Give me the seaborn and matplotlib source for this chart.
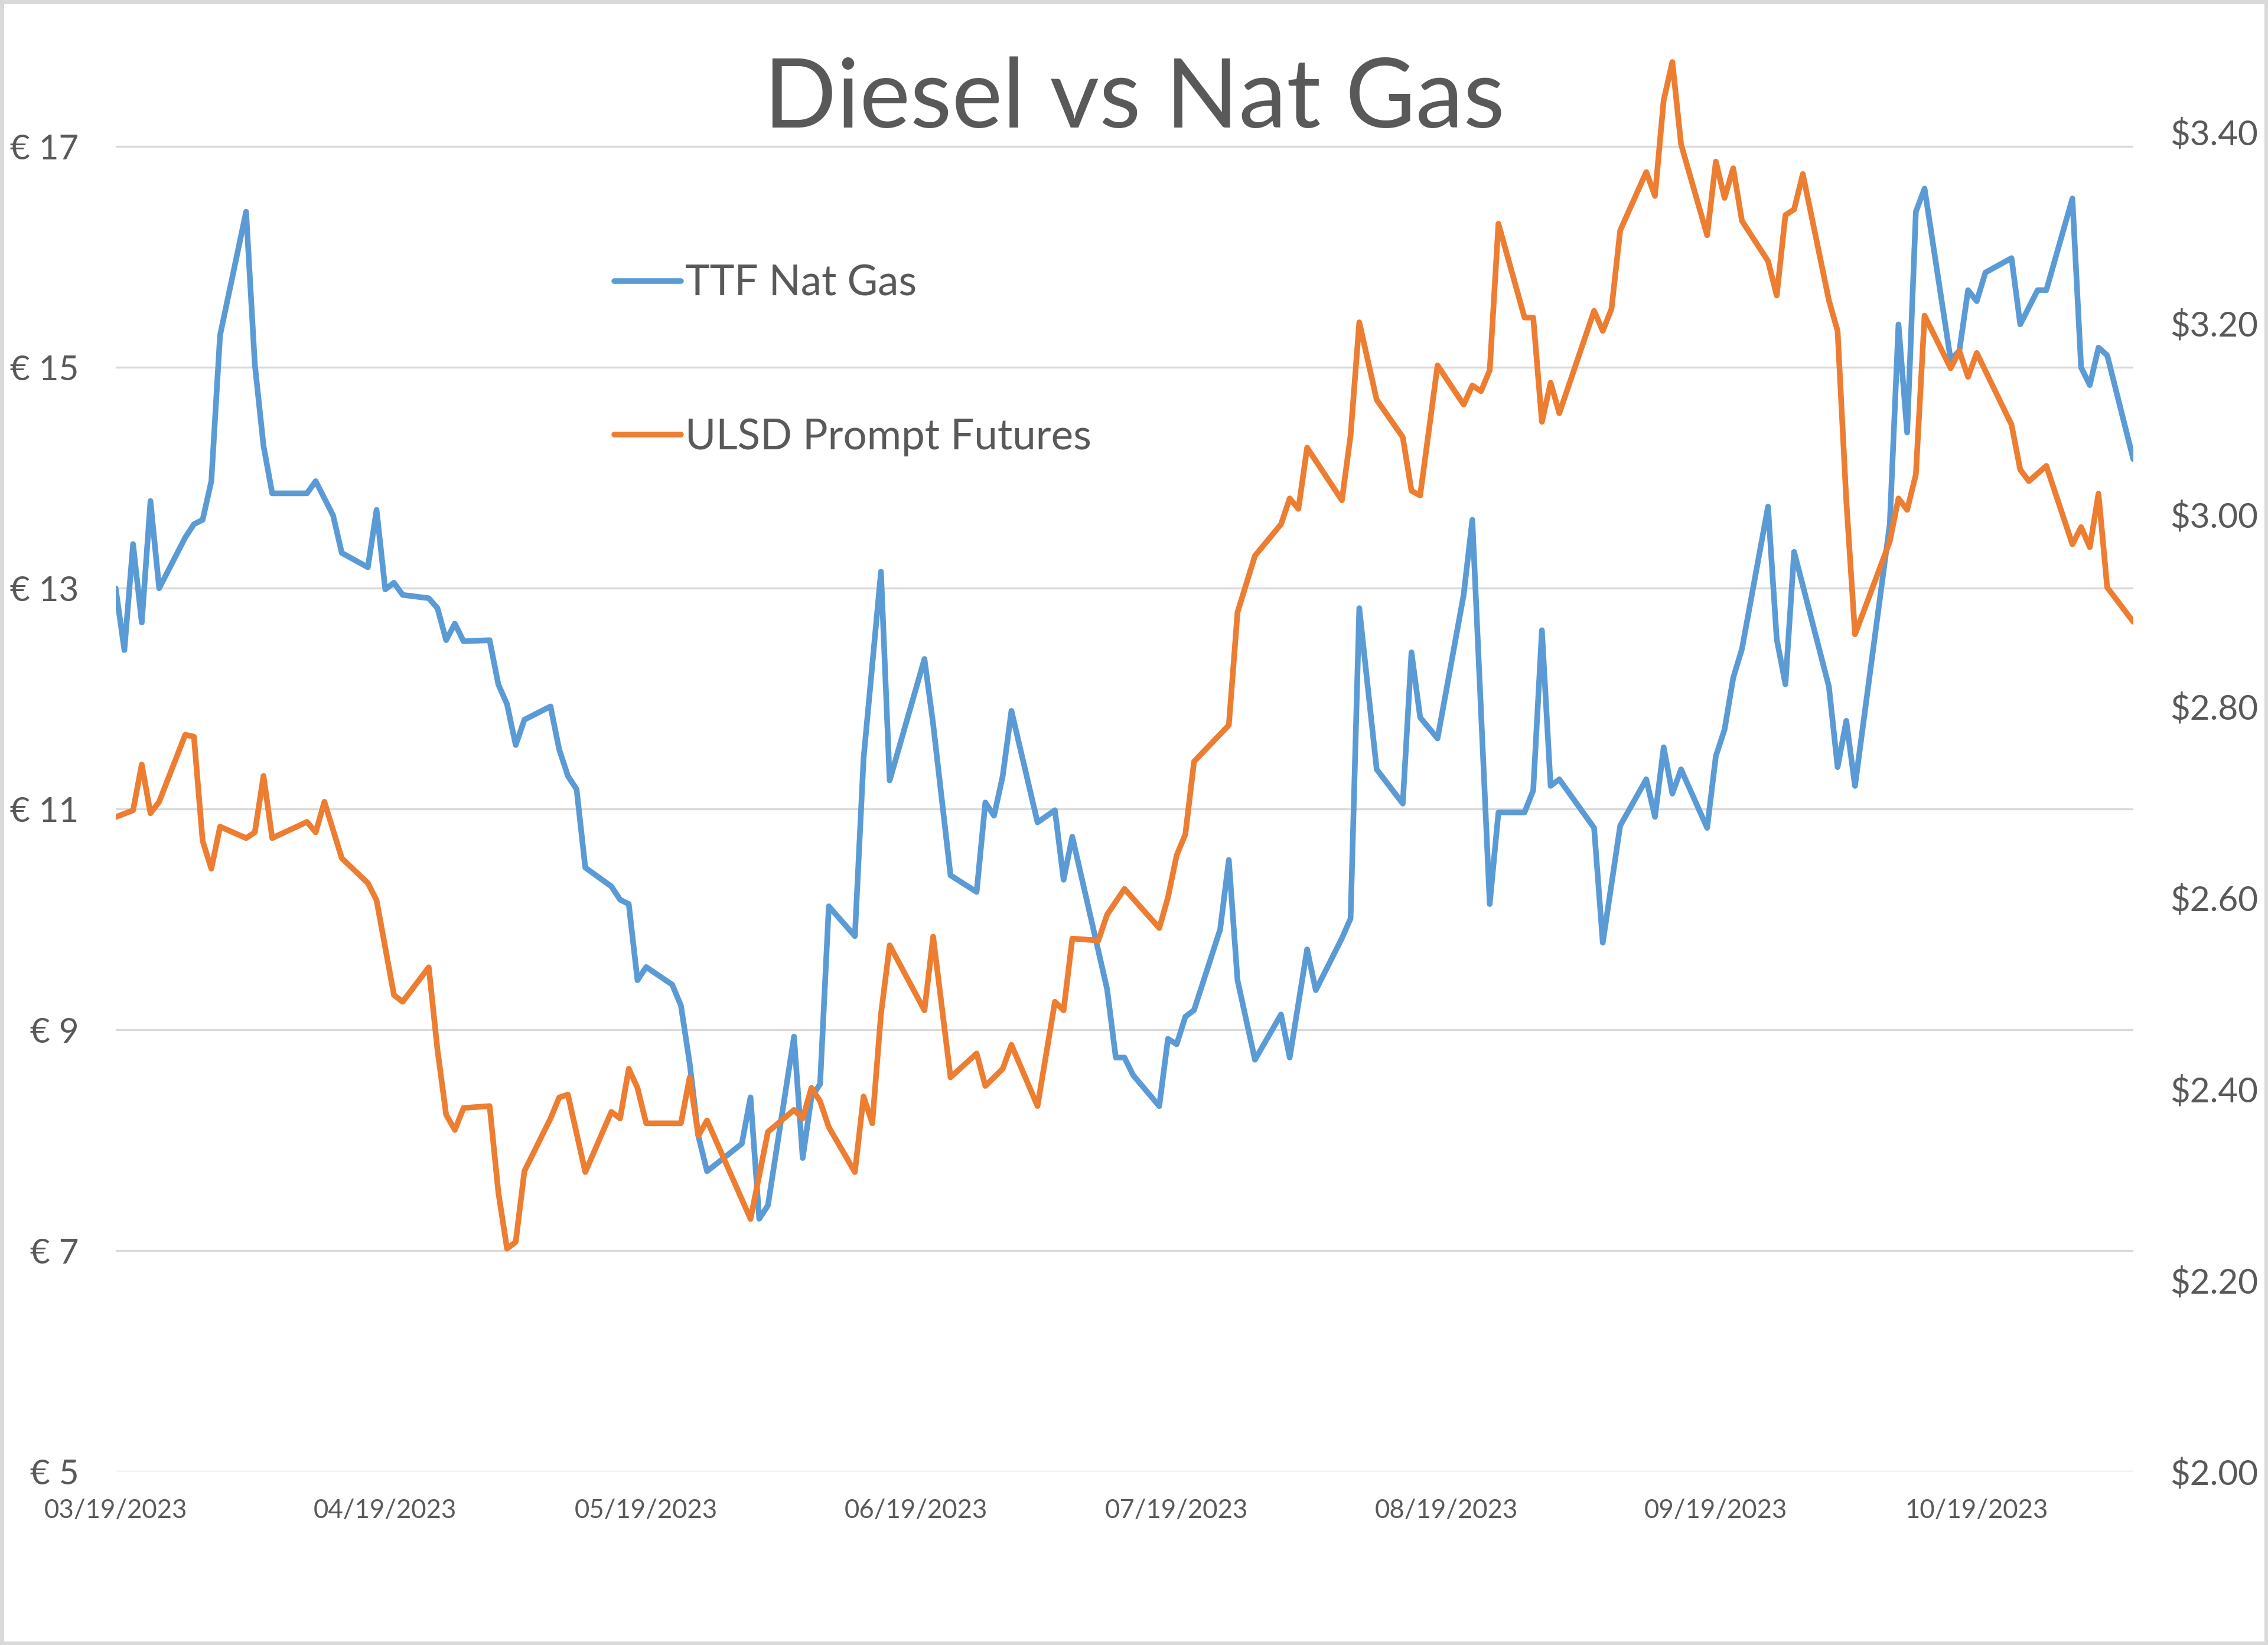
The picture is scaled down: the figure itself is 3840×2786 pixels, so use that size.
import pandas as pd
import seaborn as sns
import matplotlib.pyplot as plt
import matplotlib.dates as mdates
from matplotlib.lines import Line2D

# TTF Nat Gas (EUR, left axis)
ttf_dates = [
    "2023-03-19", "2023-03-20", "2023-03-21", "2023-03-22", "2023-03-23", "2023-03-24",
    "2023-03-27", "2023-03-28", "2023-03-29", "2023-03-30", "2023-03-31",
    "2023-04-03", "2023-04-04", "2023-04-05", "2023-04-06",
    "2023-04-10", "2023-04-11", "2023-04-13", "2023-04-14",
    "2023-04-17", "2023-04-18", "2023-04-19", "2023-04-20", "2023-04-21",
    "2023-04-24", "2023-04-25", "2023-04-26", "2023-04-27", "2023-04-28",
    "2023-05-01", "2023-05-02", "2023-05-03", "2023-05-04", "2023-05-05",
    "2023-05-08", "2023-05-09", "2023-05-10", "2023-05-11", "2023-05-12",
    "2023-05-15", "2023-05-16", "2023-05-17", "2023-05-18", "2023-05-19",
    "2023-05-22", "2023-05-23", "2023-05-24", "2023-05-25", "2023-05-26",
    "2023-05-30", "2023-05-31", "2023-06-01", "2023-06-02",
    "2023-06-05", "2023-06-06", "2023-06-07", "2023-06-08", "2023-06-09",
    "2023-06-12", "2023-06-13", "2023-06-15", "2023-06-16",
    "2023-06-20", "2023-06-21", "2023-06-23",
    "2023-06-26", "2023-06-27", "2023-06-28", "2023-06-29", "2023-06-30",
    "2023-07-03", "2023-07-05", "2023-07-06", "2023-07-07",
    "2023-07-11", "2023-07-12", "2023-07-13", "2023-07-14",
    "2023-07-17", "2023-07-18", "2023-07-19", "2023-07-20", "2023-07-21",
    "2023-07-24", "2023-07-25", "2023-07-26", "2023-07-28",
    "2023-07-31", "2023-08-01", "2023-08-03", "2023-08-04",
    "2023-08-07", "2023-08-08", "2023-08-09", "2023-08-11",
    "2023-08-14", "2023-08-15", "2023-08-16", "2023-08-18",
    "2023-08-21", "2023-08-22", "2023-08-24", "2023-08-25",
    "2023-08-28", "2023-08-29", "2023-08-30", "2023-08-31", "2023-09-01",
    "2023-09-05", "2023-09-06", "2023-09-08",
    "2023-09-11", "2023-09-12", "2023-09-13", "2023-09-14", "2023-09-15",
    "2023-09-18", "2023-09-19", "2023-09-20", "2023-09-21", "2023-09-22",
    "2023-09-25", "2023-09-26", "2023-09-27", "2023-09-28",
    "2023-10-02", "2023-10-03", "2023-10-04", "2023-10-05",
    "2023-10-09", "2023-10-10", "2023-10-11", "2023-10-12", "2023-10-13",
    "2023-10-16", "2023-10-17", "2023-10-18", "2023-10-19", "2023-10-20",
    "2023-10-23", "2023-10-24", "2023-10-26", "2023-10-27",
    "2023-10-30", "2023-10-31", "2023-11-01", "2023-11-02", "2023-11-03",
    "2023-11-06",
]
ttf_eur = [
    13.00, 12.44, 13.40, 12.69, 13.79, 13.00,
    13.46, 13.58, 13.62, 13.97, 15.29,
    16.41, 15.03, 14.29, 13.86,
    13.86, 13.97, 13.66, 13.32,
    13.19, 13.71, 12.99, 13.05, 12.94,
    12.91, 12.82, 12.53, 12.68, 12.52,
    12.53, 12.13, 11.95, 11.58, 11.81,
    11.93, 11.54, 11.30, 11.18, 10.47,
    10.30, 10.18, 10.14, 9.45, 9.57,
    9.41, 9.22, 8.70, 8.04, 7.72,
    7.97, 8.39, 7.29, 7.41,
    8.94, 7.84, 8.39, 8.51, 10.12,
    9.85, 11.46, 13.15, 11.26,
    12.36, 11.77, 10.40,
    10.25, 11.06, 10.94, 11.30, 11.89,
    10.88, 10.99, 10.36, 10.75,
    9.37, 8.75, 8.75, 8.59,
    8.31, 8.92, 8.87, 9.12, 9.18,
    9.91, 10.54, 9.45, 8.73,
    9.14, 8.75, 9.73, 9.36,
    9.83, 10.01, 12.82, 11.36,
    11.05, 12.42, 11.83, 11.64,
    12.94, 13.62, 10.14, 10.97,
    10.97, 11.17, 12.62, 11.21, 11.27,
    10.83, 9.79, 10.85,
    11.27, 10.93, 11.56, 11.14, 11.36,
    10.83, 11.48, 11.72, 12.19, 12.45,
    13.74, 12.54, 12.13, 13.33,
    12.11, 11.38, 11.80, 11.21,
    13.58, 15.39, 14.41, 16.41, 16.62,
    15.07, 15.15, 15.70, 15.60, 15.86,
    15.99, 15.39, 15.70, 15.70,
    16.53, 15.00, 14.84, 15.18, 15.11,
    14.17,
]

# ULSD Prompt Futures (USD, right axis)
ulsd_dates = [
    "2023-03-19", "2023-03-21", "2023-03-22", "2023-03-23", "2023-03-24",
    "2023-03-27", "2023-03-28", "2023-03-29", "2023-03-30", "2023-03-31",
    "2023-04-03", "2023-04-04", "2023-04-05", "2023-04-06",
    "2023-04-10", "2023-04-11", "2023-04-12", "2023-04-14",
    "2023-04-17", "2023-04-18", "2023-04-20", "2023-04-21",
    "2023-04-24", "2023-04-25", "2023-04-26", "2023-04-27", "2023-04-28",
    "2023-05-01", "2023-05-02", "2023-05-03", "2023-05-04", "2023-05-05",
    "2023-05-08", "2023-05-09", "2023-05-10", "2023-05-12",
    "2023-05-15", "2023-05-16", "2023-05-17", "2023-05-18", "2023-05-19",
    "2023-05-23", "2023-05-24", "2023-05-25", "2023-05-26",
    "2023-05-31", "2023-06-02",
    "2023-06-05", "2023-06-06", "2023-06-07", "2023-06-08", "2023-06-09",
    "2023-06-12", "2023-06-13", "2023-06-14", "2023-06-15", "2023-06-16",
    "2023-06-20", "2023-06-21", "2023-06-23",
    "2023-06-26", "2023-06-27", "2023-06-29", "2023-06-30",
    "2023-07-03", "2023-07-05", "2023-07-06", "2023-07-07",
    "2023-07-10", "2023-07-11", "2023-07-13",
    "2023-07-17", "2023-07-18", "2023-07-19", "2023-07-20", "2023-07-21",
    "2023-07-25", "2023-07-26", "2023-07-28",
    "2023-07-31", "2023-08-01", "2023-08-02", "2023-08-03",
    "2023-08-07", "2023-08-08", "2023-08-09", "2023-08-11",
    "2023-08-14", "2023-08-15", "2023-08-16", "2023-08-18",
    "2023-08-21", "2023-08-22", "2023-08-23", "2023-08-24", "2023-08-25",
    "2023-08-28", "2023-08-29", "2023-08-30", "2023-08-31", "2023-09-01",
    "2023-09-05", "2023-09-06", "2023-09-07", "2023-09-08",
    "2023-09-11", "2023-09-12", "2023-09-13", "2023-09-14", "2023-09-15",
    "2023-09-18", "2023-09-19", "2023-09-20", "2023-09-21", "2023-09-22",
    "2023-09-25", "2023-09-26", "2023-09-27", "2023-09-28", "2023-09-29",
    "2023-10-02", "2023-10-03", "2023-10-04", "2023-10-05", "2023-10-06",
    "2023-10-09", "2023-10-10", "2023-10-11", "2023-10-12", "2023-10-13",
    "2023-10-16", "2023-10-17", "2023-10-18", "2023-10-19",
    "2023-10-23", "2023-10-24", "2023-10-25", "2023-10-27",
    "2023-10-30", "2023-10-31", "2023-11-01", "2023-11-02", "2023-11-03",
    "2023-11-06",
]
ulsd_usd = [
    2.684, 2.691, 2.739, 2.688, 2.700,
    2.770, 2.768, 2.659, 2.630, 2.674,
    2.662, 2.668, 2.727, 2.662,
    2.679, 2.668, 2.700, 2.641,
    2.615, 2.597, 2.498, 2.491,
    2.527, 2.441, 2.373, 2.357, 2.380,
    2.382, 2.292, 2.233, 2.240, 2.314,
    2.369, 2.391, 2.394, 2.313,
    2.376, 2.369, 2.421, 2.401, 2.364,
    2.364, 2.412, 2.351, 2.367,
    2.264, 2.355,
    2.378, 2.369, 2.401, 2.387, 2.360,
    2.313, 2.392, 2.364, 2.478, 2.550,
    2.482, 2.559, 2.412,
    2.437, 2.403, 2.421, 2.446,
    2.382, 2.491, 2.482, 2.557,
    2.555, 2.582, 2.609,
    2.568, 2.600, 2.644, 2.666, 2.742,
    2.780, 2.898, 2.957,
    2.990, 3.017, 3.006, 3.070,
    3.015, 3.083, 3.201, 3.120,
    3.081, 3.025, 3.020, 3.156,
    3.115, 3.135, 3.129, 3.151, 3.304,
    3.206, 3.206, 3.097, 3.138, 3.106,
    3.213, 3.192, 3.215, 3.297,
    3.358, 3.333, 3.433, 3.473, 3.387,
    3.292, 3.369, 3.331, 3.362, 3.307,
    3.265, 3.229, 3.313, 3.319, 3.356,
    3.224, 3.192, 3.015, 2.875, 2.899,
    2.972, 3.017, 3.005, 3.042, 3.208,
    3.153, 3.171, 3.144, 3.169,
    3.094, 3.047, 3.035, 3.051,
    2.969, 2.987, 2.966, 3.022, 2.924,
    2.888,
]

x_tick_dates = ["2023-03-19", "2023-04-19", "2023-05-19", "2023-06-19",
                "2023-07-19", "2023-08-19", "2023-09-19", "2023-10-19"]
eur_ticks = [5, 7, 9, 11, 13, 15, 17]
usd_ticks = [2.00, 2.20, 2.40, 2.60, 2.80, 3.00, 3.20, 3.40]

BLUE = "#5B9BD5"
ORANGE = "#ED7D31"
GREY_TXT = "#595959"
GRID = "#D9D9D9"

ttf = pd.DataFrame({"date": pd.to_datetime(ttf_dates), "value": ttf_eur})
ulsd = pd.DataFrame({"date": pd.to_datetime(ulsd_dates), "value": ulsd_usd})

sns.set_theme(style="white")
plt.rcParams["font.family"] = ["Lato", "DejaVu Sans"]

fig = plt.figure(figsize=(12.8, 9.2867), dpi=300)
fig.patch.set_edgecolor(GRID)
fig.patch.set_linewidth(3)

ax = fig.add_axes([0.0510, 0.1054, 0.8896, 0.8726])
ax2 = ax.twinx()

sns.lineplot(data=ttf, x="date", y="value", ax=ax, color=BLUE, lw=2.3, sort=True)
sns.lineplot(data=ulsd, x="date", y="value", ax=ax2, color=ORANGE, lw=2.3, sort=True)

ax.set_ylim(5, 18)
ax2.set_ylim(2.0, 3.5)
ax.set_xlim(pd.Timestamp("2023-03-19"), pd.Timestamp("2023-11-06"))

ax.set_yticks(eur_ticks)
ax.set_yticklabels([f"€ {v}" for v in eur_ticks])
ax2.set_yticks(usd_ticks)
ax2.set_yticklabels([f"${v:.2f}" for v in usd_ticks])

ax.set_xticks(pd.to_datetime(x_tick_dates))
ax.xaxis.set_major_formatter(mdates.DateFormatter("%m/%d/%Y"))

ax.set_xlabel("")
ax.set_ylabel("")
ax2.set_ylabel("")

ax.yaxis.grid(True, color=GRID, lw=0.8)
ax.xaxis.grid(False)
ax2.grid(False)

for a in (ax, ax2):
    for s in a.spines.values():
        s.set_visible(False)

ax.tick_params(axis="y", length=0, pad=15, labelsize=14, labelcolor=GREY_TXT)
ax.tick_params(axis="x", length=0, pad=11, labelsize=10.5, labelcolor=GREY_TXT)
ax2.tick_params(axis="y", length=0, pad=15, labelsize=14, labelcolor=GREY_TXT)

handles = [Line2D([], [], color=BLUE, lw=2.3), Line2D([], [], color=ORANGE, lw=2.3)]
ax2.legend(handles, ["TTF Nat Gas", "ULSD Prompt Futures"],
           loc="upper left", bbox_to_anchor=(0.247, 0.841),
           frameon=False, fontsize=17, labelcolor=GREY_TXT,
           handlelength=1.6, handletextpad=0.1, labelspacing=2.75,
           borderpad=0, borderaxespad=0)

fig.text(0.5, 0.939, "Diesel vs Nat Gas", ha="center", va="center",
         fontsize=39, color=GREY_TXT)

fig.savefig("out.png", dpi=300, edgecolor=fig.get_edgecolor())
